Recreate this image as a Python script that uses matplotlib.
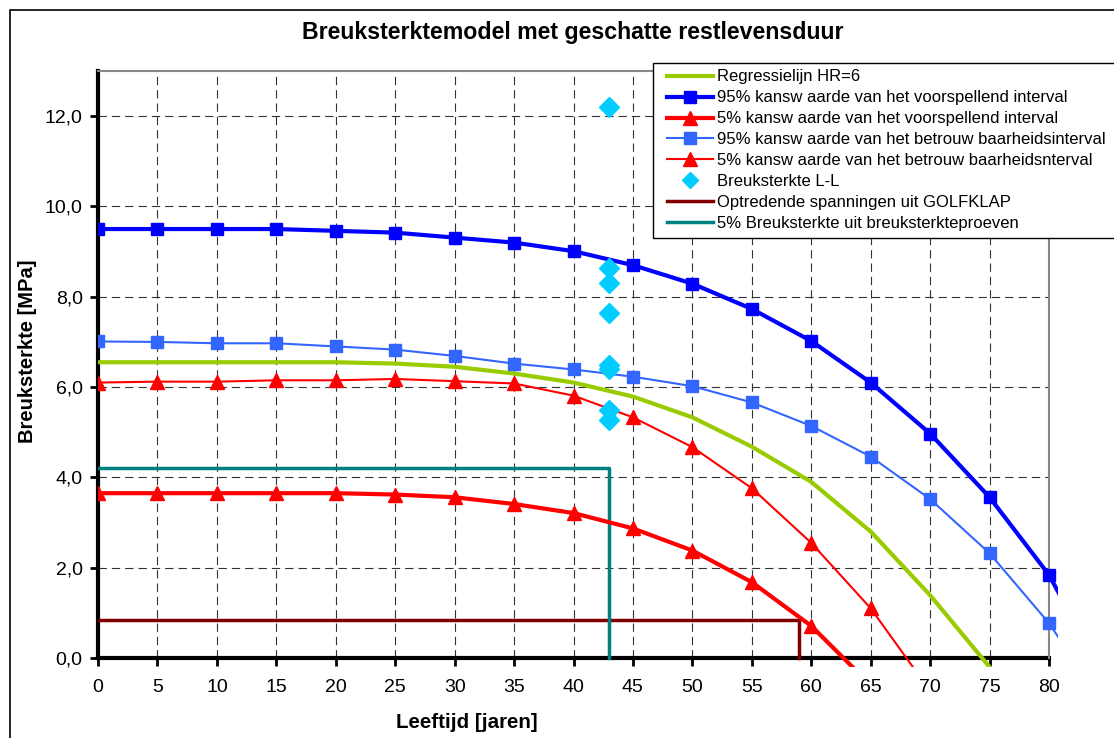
import matplotlib
matplotlib.use("Agg")
import matplotlib.pyplot as plt
from matplotlib.ticker import FuncFormatter, MultipleLocator
from matplotlib.transforms import Bbox, TransformedBbox
from matplotlib.patches import Rectangle
from matplotlib.lines import Line2D

plt.rcParams['font.family'] = ['Liberation Sans', 'DejaVu Sans']

# ---- data ----
leeftijd = [0, 5, 10, 15, 20, 25, 30, 35, 40, 45, 50, 55, 60, 65, 70, 75, 80, 85]
regressie = [6.55, 6.55, 6.55, 6.55, 6.55, 6.52, 6.45, 6.30, 6.10, 5.79, 5.33, 4.68, 3.90, 2.80, 1.39, -0.20, -2.0, -4.0]
voorsp_95 = [9.50, 9.50, 9.50, 9.50, 9.46, 9.42, 9.31, 9.20, 9.01, 8.70, 8.29, 7.73, 7.02, 6.10, 4.97, 3.56, 1.84, -0.6]
voorsp_5 = [3.65, 3.65, 3.65, 3.65, 3.65, 3.62, 3.56, 3.41, 3.21, 2.87, 2.38, 1.68, 0.71, -0.60, -2.0, -3.5, -5.0, -7.0]
betr_95 = [7.01, 7.00, 6.97, 6.97, 6.90, 6.83, 6.69, 6.52, 6.39, 6.23, 6.02, 5.66, 5.14, 4.46, 3.52, 2.32, 0.77, -1.2]
betr_5 = [6.10, 6.12, 6.12, 6.15, 6.15, 6.18, 6.13, 6.08, 5.81, 5.33, 4.67, 3.76, 2.55, 1.10, -0.73, -2.6, -4.6, -6.8]

ll_x = [43, 43, 43, 43, 43, 43, 43, 43]
ll_y = [12.20, 8.64, 8.31, 7.65, 6.49, 6.39, 5.49, 5.28]

golfklap_x = [0, 59, 59]
golfklap_y = [0.85, 0.85, 0.0]
proef_x = [0, 43, 43]
proef_y = [4.20, 4.20, 0.0]

labels = [
    "Regressielijn HR=6",
    "95% kansw aarde van het voorspellend interval",
    "5% kansw aarde van het voorspellend interval",
    "95% kansw aarde van het betrouw baarheidsinterval",
    "5% kansw aarde van het betrouw baarheidsnterval",
    "Breuksterkte L-L",
    "Optredende spanningen uit GOLFKLAP",
    "5% Breuksterkte uit breuksterkteproeven",
]

W, H = 1114, 738
fig = plt.figure(figsize=(W / 100, H / 100), dpi=100)
fig.patch.set_facecolor('white')

def fx(px):
    return px / W

def fy(py):
    return 1 - py / H

# outer chart border
fig.add_artist(Rectangle((fx(10), -0.01), 1.02, fy(10) + 0.01, transform=fig.transFigure,
                         fill=False, edgecolor='black', linewidth=1.2))

ax = fig.add_axes([fx(98), fy(658), (1049 - 98) / W, (658 - 71) / H])
ax.set_xlim(0, 80)
ax.set_ylim(0, 13)

clipbox = TransformedBbox(Bbox([[-0.0005, -0.016], [1.0095, 1.0]]), ax.transAxes)

def clipped(lines):
    for ln in lines:
        ln.set_clip_on(True)
        ln.set_clip_box(clipbox)
    return lines

styles = [
    dict(color='#99CC00', lw=3.0),
    dict(color='#0000FF', lw=3.0, marker='s', ms=8, mec='#0000FF'),
    dict(color='#FF0000', lw=3.0, marker='^', ms=10, mec='#FF0000'),
    dict(color='#3366FF', lw=1.5, marker='s', ms=8, mec='#3366FF'),
    dict(color='#FF0000', lw=1.5, marker='^', ms=10, mec='#FF0000'),
    dict(ls='none', marker='D', ms=10, color='#00CCFF', mec='#00CCFF'),
    dict(color='#800000', lw=2.5),
    dict(color='#008080', lw=2.5),
]
series = [(leeftijd, regressie), (leeftijd, voorsp_95), (leeftijd, voorsp_5),
          (leeftijd, betr_95), (leeftijd, betr_5), (ll_x, ll_y),
          (golfklap_x, golfklap_y), (proef_x, proef_y)]
zorders = [4, 5, 5, 5, 5, 6, 3, 3]
for (xs, ys), st, z in zip(series, styles, zorders):
    clipped(ax.plot(xs, ys, zorder=z, **st))

# legend proxies (slightly smaller markers as in the reference legend)
handles = []
for st in styles:
    s = dict(st)
    if 'ms' in s:
        s['ms'] = {'s': 8, '^': 10, 'D': 8}[s['marker']]
    handles.append(Line2D([], [], **s))

# grid
ax.xaxis.set_major_locator(MultipleLocator(5))
ax.yaxis.set_major_locator(MultipleLocator(2))
ax.grid(True, color='#333333', linestyle=(0, (7.5, 4.5)), linewidth=0.8)
ax.yaxis.set_major_formatter(FuncFormatter(lambda v, p: f"{v:.1f}".replace('.', ',')))

for s in ['top', 'right']:
    ax.spines[s].set_color('#888888')
    ax.spines[s].set_linewidth(1.5)
for s in ['left', 'bottom']:
    ax.spines[s].set_color('black')
    ax.spines[s].set_linewidth(3)
    ax.spines[s].set_zorder(2)

ax.tick_params(axis='both', direction='out', length=6, width=2, labelsize=14, colors='black')
ax.tick_params(axis='x', pad=9)
ax.tick_params(axis='y', pad=5)

fig.text(fx(573), fy(33), "Breuksterktemodel met geschatte restlevensduur",
         ha='center', va='center', fontsize=16.7, fontweight='bold')
fig.text(fx(467), fy(723), "Leeftijd [jaren]", ha='center', va='center',
         fontsize=14.8, fontweight='bold')
fig.text(fx(28), fy(351), "Breuksterkte [MPa]", ha='center', va='center',
         fontsize=14.5, fontweight='bold', rotation=90)

# legend frame drawn separately
fig.add_artist(Rectangle((fx(653), fy(238)), 1.0, fy(63) - fy(238), transform=fig.transFigure,
                         facecolor='white', edgecolor='black', linewidth=1.0, zorder=9))
leg = fig.legend(handles, labels, loc='upper left', bbox_to_anchor=(fx(667), fy(69.5)),
                 bbox_transform=fig.transFigure, fontsize=12, frameon=False,
                 numpoints=1, handlelength=2.76, handletextpad=0.24, labelspacing=0.355,
                 borderpad=0, borderaxespad=0)
leg.set_zorder(10)

fig.savefig("out.png", dpi=100, facecolor='white')
